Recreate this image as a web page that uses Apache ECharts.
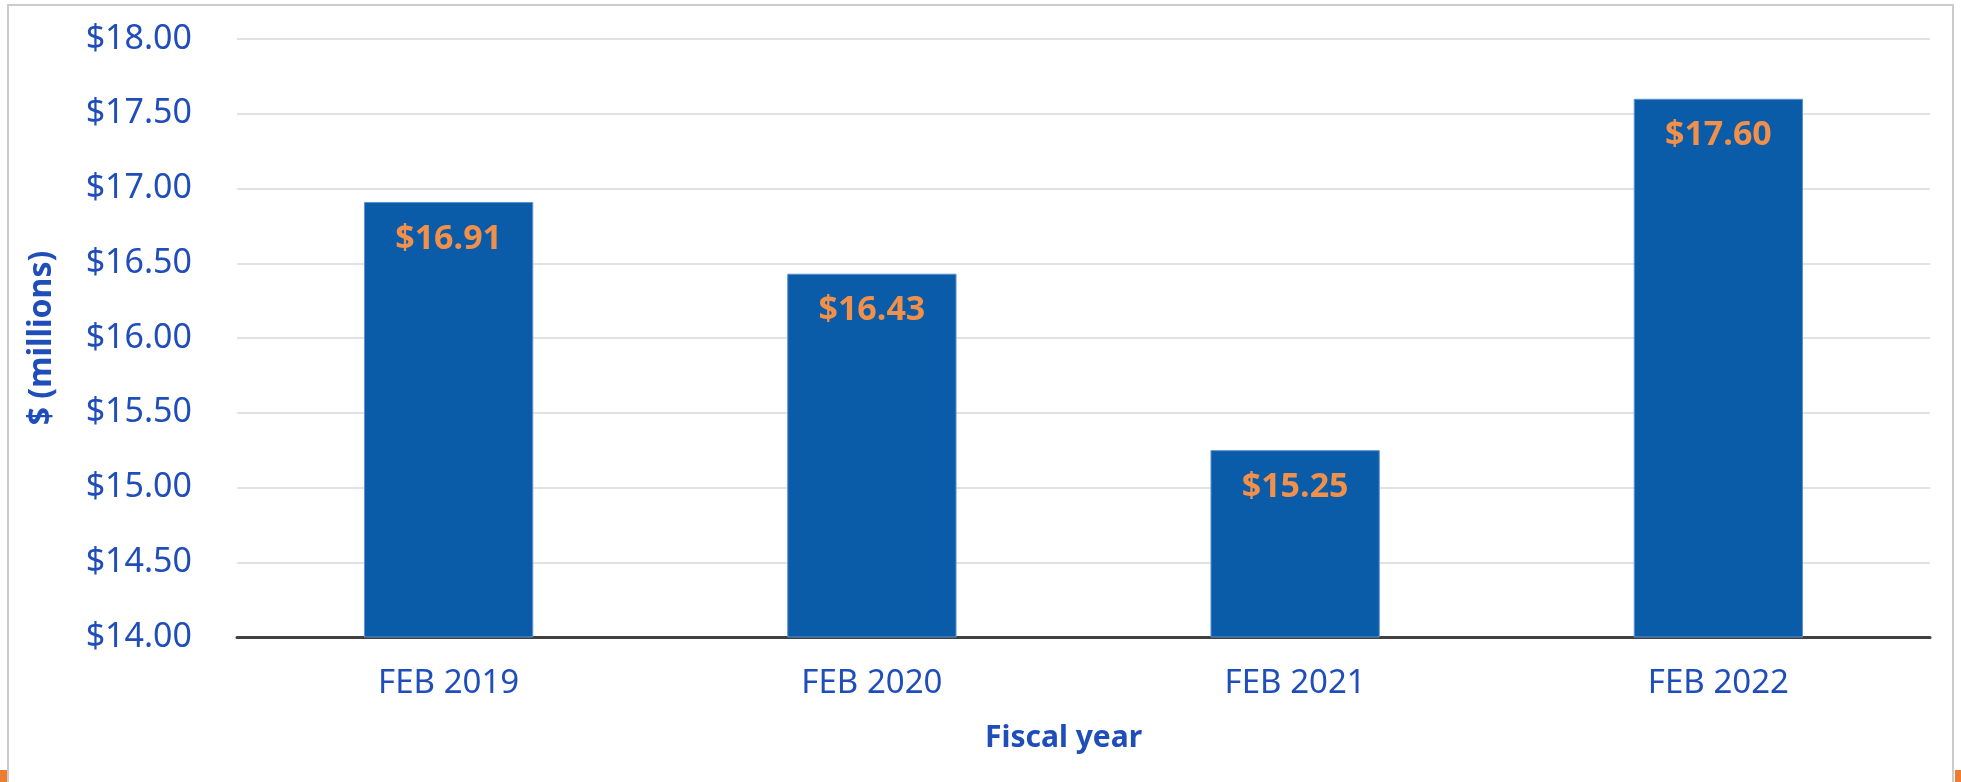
<!DOCTYPE html>
<html>
<head>
<meta charset="utf-8">
<script src="https://cdn.jsdelivr.net/npm/echarts@6/dist/echarts.min.js"></script>
<style>
  html, body { margin: 0; padding: 0; background: #fff; }
  #main { width: 1961px; height: 782px; }
</style>
</head>
<body>
<div id="main"></div>
<script>
// data
const years = ["FEB 2019", "FEB 2020", "FEB 2021", "FEB 2022"];
const amounts = [16.91, 16.43, 15.25, 17.60];

const blueText = "#1F4DBA";
const money = (v) => "$" + Number(v).toFixed(2);

let myChart = echarts.init(document.getElementById("main"));

let option = {
  backgroundColor: "#fff",
  animation: false,
  textStyle: { fontFamily: "Noto Sans" },
  grid: { left: 237, right: 31, top: 39, bottom: 145 },
  graphic: [
    // slide frame
    {
      type: "rect",
      shape: { x: 8, y: 5, width: 1945, height: 800 },
      style: { fill: "none", stroke: "#cccccc", lineWidth: 2 },
      silent: true,
    },
    { type: "rect", shape: { x: 0, y: 770, width: 7, height: 12 }, style: { fill: "#ED7D31" } },
    { type: "rect", shape: { x: 1955, y: 770, width: 6, height: 12 }, style: { fill: "#ED7D31" } },
  ],
  xAxis: {
    type: "category",
    data: years,
    name: "Fiscal year",
    nameLocation: "middle",
    nameGap: 86,
    nameTextStyle: {
      color: blueText,
      fontSize: 30,
      fontWeight: "bold",
      padding: [0, 40, 0, 0],
    },
    axisLine: { lineStyle: { color: "#404040", width: 3 } },
    axisTick: { show: false },
    axisLabel: { color: blueText, fontSize: 33, margin: 30 },
  },
  yAxis: {
    type: "value",
    min: 14,
    max: 18,
    interval: 0.5,
    name: "$ (millions)",
    nameLocation: "middle",
    nameGap: 179,
    nameTextStyle: { color: blueText, fontSize: 32, fontWeight: "bold" },
    axisLine: { show: false },
    axisTick: { show: false },
    splitLine: { lineStyle: { color: "#d9d9d9", width: 1.5 } },
    axisLabel: {
      color: blueText,
      fontSize: 34,
      margin: 45,
      formatter: money,
    },
  },
  series: [
    {
      type: "bar",
      data: amounts,
      barWidth: "40%",
      itemStyle: { color: "#0B5CA8", borderColor: "#5E93CF", borderWidth: 1 },
      label: {
        show: true,
        position: "insideTop",
        distance: 20,
        color: "#F0904A",
        fontSize: 34,
        fontWeight: "bold",
        formatter: (p) => money(p.value),
      },
    },
  ],
};
myChart.setOption(option);
</script>
</body>
</html>
